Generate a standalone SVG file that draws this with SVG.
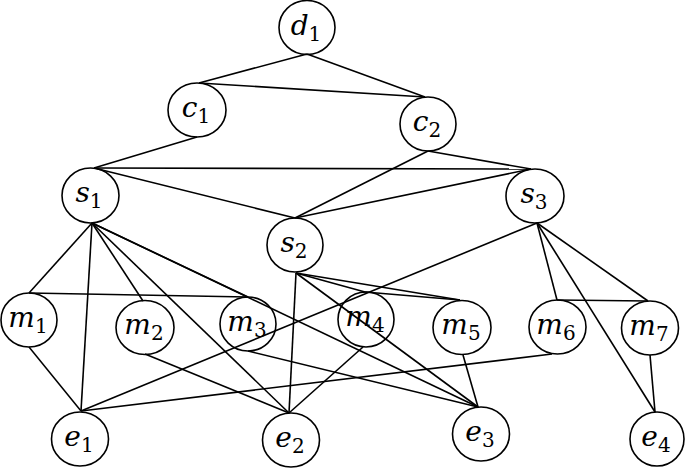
<svg xmlns="http://www.w3.org/2000/svg" width="685" height="469" viewBox="0 0 685 469">
<style>
.n ellipse{fill:#fff;stroke:#000;stroke-width:1.6}
.n text{font-family:"DejaVu Serif","Liberation Serif",serif;font-style:italic;font-size:28px;text-anchor:middle;fill:#000}
.n tspan{font-style:normal;font-size:20px}
#edges line{stroke:#000;stroke-width:1.6;fill:none}
</style>
<rect width="685" height="469" fill="#fff"/>
<g id="nodes">
<g id="d1" class="n"><ellipse cx="307" cy="27.5" rx="28" ry="27"/><text x="306" y="35">d<tspan dy="6">1</tspan></text></g>
<g id="c1" class="n"><ellipse cx="197" cy="110" rx="29" ry="27"/><text x="196" y="117">c<tspan dy="6">1</tspan></text></g>
<g id="c2" class="n"><ellipse cx="428" cy="124" rx="28" ry="27"/><text x="427" y="131">c<tspan dy="6">2</tspan></text></g>
<g id="s1" class="n"><ellipse cx="90.5" cy="195.5" rx="28.5" ry="27.5"/><text x="89" y="202">s<tspan dy="6">1</tspan></text></g>
<g id="s2" class="n"><ellipse cx="295" cy="245" rx="28" ry="27"/><text x="294" y="252">s<tspan dy="6">2</tspan></text></g>
<g id="s3" class="n"><ellipse cx="535" cy="196" rx="29" ry="27"/><text x="534" y="203">s<tspan dy="6">3</tspan></text></g>
<g id="m1" class="n"><ellipse cx="29" cy="320" rx="28" ry="27"/><text x="28" y="327">m<tspan dy="6">1</tspan></text></g>
<g id="m2" class="n"><ellipse cx="145" cy="327.5" rx="29" ry="27"/><text x="144" y="334">m<tspan dy="6">2</tspan></text></g>
<g id="m3" class="n"><ellipse cx="248" cy="324" rx="28" ry="27"/><text x="247" y="331">m<tspan dy="6">3</tspan></text></g>
<g id="m4" class="n"><ellipse cx="366" cy="319.5" rx="28" ry="27.5"/><text x="365" y="326">m<tspan dy="6">4</tspan></text></g>
<g id="m5" class="n"><ellipse cx="462" cy="327.5" rx="29" ry="27"/><text x="461" y="334">m<tspan dy="6">5</tspan></text></g>
<g id="m6" class="n"><ellipse cx="557.5" cy="327" rx="28.5" ry="27"/><text x="556" y="334">m<tspan dy="6">6</tspan></text></g>
<g id="m7" class="n"><ellipse cx="650" cy="328" rx="28.5" ry="27"/><text x="649" y="335">m<tspan dy="6">7</tspan></text></g>
<g id="e1" class="n"><ellipse cx="80" cy="439" rx="28.5" ry="27"/><text x="79" y="446">e<tspan dy="6">1</tspan></text></g>
<g id="e2" class="n"><ellipse cx="291" cy="440" rx="28.5" ry="27"/><text x="290" y="447">e<tspan dy="6">2</tspan></text></g>
<g id="e3" class="n"><ellipse cx="481" cy="434" rx="28.5" ry="27"/><text x="480" y="441">e<tspan dy="6">3</tspan></text></g>
<g id="e4" class="n"><ellipse cx="657" cy="439" rx="27" ry="27"/><text x="656" y="446">e<tspan dy="6">4</tspan></text></g>
</g>
<g id="edges">
<line x1="307" y1="54" x2="199" y2="83"/>
<line x1="307" y1="54" x2="425" y2="97"/>
<line x1="199" y1="83" x2="425" y2="97"/>
<line x1="197" y1="137" x2="94" y2="168"/>
<line x1="428" y1="151" x2="295" y2="218"/>
<line x1="428" y1="151" x2="531" y2="169"/>
<line x1="94" y1="168" x2="531" y2="169"/>
<line x1="94" y1="168" x2="295" y2="218"/>
<line x1="295" y1="218" x2="531" y2="169"/>
<line x1="92" y1="223" x2="29" y2="293"/>
<line x1="92" y1="223" x2="81" y2="411"/>
<line x1="92" y1="223" x2="143" y2="301"/>
<line x1="92" y1="223" x2="289" y2="413"/>
<line x1="92" y1="223" x2="248" y2="297"/>
<line x1="92" y1="223" x2="478" y2="407"/>
<line x1="29" y1="293" x2="248" y2="297"/>
<line x1="29" y1="347" x2="81" y2="411"/>
<line x1="145" y1="354" x2="289" y2="413"/>
<line x1="248" y1="351" x2="478" y2="407"/>
<line x1="296" y1="273" x2="289" y2="413"/>
<line x1="296" y1="273" x2="365" y2="292"/>
<line x1="296" y1="273" x2="460" y2="300"/>
<line x1="365" y1="292" x2="460" y2="300"/>
<line x1="296" y1="273" x2="478" y2="407"/>
<line x1="363" y1="347" x2="289" y2="413"/>
<line x1="463" y1="355" x2="478" y2="407"/>
<line x1="537" y1="223" x2="81" y2="411"/>
<line x1="552" y1="354" x2="81" y2="411"/>
<line x1="537" y1="223" x2="557" y2="300"/>
<line x1="537" y1="223" x2="648" y2="301"/>
<line x1="537" y1="223" x2="655" y2="412"/>
<line x1="557" y1="300" x2="648" y2="301"/>
<line x1="650" y1="355" x2="655" y2="412"/>
</g>
</svg>
